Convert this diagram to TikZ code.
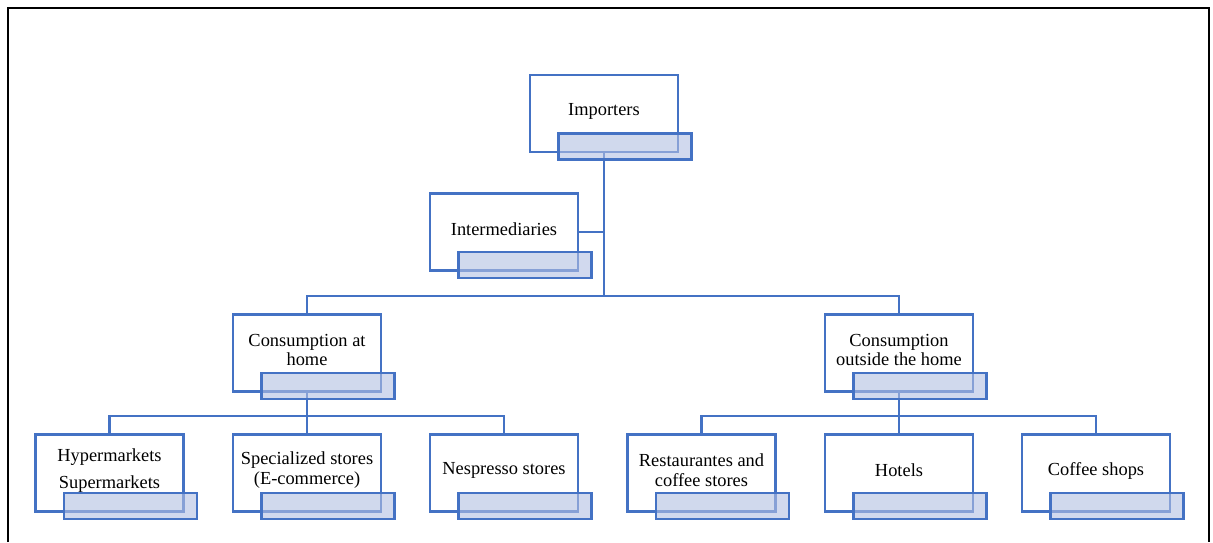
\documentclass[tikz,border=0pt]{standalone}
\usepackage{fontspec}
\setmainfont{Liberation Serif}
\usetikzlibrary{calc}
\definecolor{orgblue}{RGB}{68,114,196}
\definecolor{tagfill}{RGB}{178,192,226}
\begin{document}
\begin{tikzpicture}[x=1pt,y=-1pt,
  mainbox/.style={draw=orgblue,line width=2.9pt,fill=white,minimum width=148pt,minimum height=77pt,inner sep=0pt},
  tagbox/.style={draw=orgblue,line width=2.9pt,fill=tagfill,fill opacity=0.6,draw opacity=1,minimum width=133pt,minimum height=26pt,inner sep=0pt},
  txt/.style={align=center,font=\fontsize{18.4}{19.5}\selectfont,inner sep=0pt},
  link/.style={draw=orgblue,line width=2.6pt}]
\useasboundingbox (0,0) rectangle (1213,542);
% frame
\draw[line width=2.8pt] (8,542) -- (8,8) -- (1209,8) -- (1209,542);
% junction points of the connectors
\coordinate (bus1) at (604,296);
\coordinate (busL) at (307,416);
\coordinate (busR) at (899,416);
% main boxes
\node[mainbox] (imp) at (604,113.5) {};
\node[mainbox] (int) at (504,232) {};
\node[mainbox] (home) at (307,353) {};
\node[mainbox] (out) at (899,353) {};
\node[mainbox] (hyp) at (109.5,473) {};
\node[mainbox] (spe) at (307,473) {};
\node[mainbox] (nes) at (504,473) {};
\node[mainbox] (res) at (701.5,473) {};
\node[mainbox] (hot) at (899,473) {};
\node[mainbox] (cof) at (1096,473) {};
% connectors
\draw[link] (imp.south) -- (bus1);
\draw[link] (int.east) -- (int.east -| bus1);
\draw[link] (home.north) |- (bus1);
\draw[link] (out.north) |- (bus1);
\draw[link] (home.south) -- (busL);
\draw[link] (hyp.north) |- (busL);
\draw[link] (spe.north) -- (busL);
\draw[link] (nes.north) |- (busL);
\draw[link] (out.south) -- (busR);
\draw[link] (res.north) |- (busR);
\draw[link] (hot.north) -- (busR);
\draw[link] (cof.north) |- (busR);
% texts
\node[txt] (imp-t) at ($(imp.center)+(0,-2.5)$) {Importers};
\node[txt] (int-t) at ($(int.center)+(0,-2.5)$) {Intermediaries};
\node[txt] (home-t) at ($(home.center)+(0,-3)$) {Consumption at\\home};
\node[txt] (out-t) at ($(out.center)+(0,-3)$) {Consumption\\outside the home};
\node[txt] (hyp-t) at ($(hyp.center)+(0,-2.5)$) {Hypermarkets\\[7.5pt]Supermarkets};
\node[txt] (spe-t) at ($(spe.center)+(0,-3)$) {Specialized stores\\(E-commerce)};
\node[txt] (nes-t) at ($(nes.center)+(0,-2.5)$) {Nespresso stores};
\node[txt] (res-t) at ($(res.center)+(0,-3)$) {Restaurantes and\\coffee stores};
\node[txt] (hot-t) at ($(hot.center)+(0,-2.5)$) {Hotels};
\node[txt] (cof-t) at ($(cof.center)+(0,-2.5)$) {Coffee shops};
% name tags
\foreach \n in {imp,int,home,out,hyp,spe,nes,res,hot,cof}
  \node[tagbox] (\n-tag) at ($(\n.center)+(21,33)$) {};
\end{tikzpicture}
\end{document}
